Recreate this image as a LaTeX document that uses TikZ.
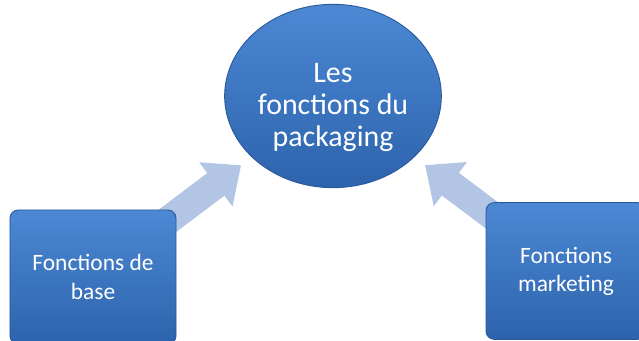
\documentclass[tikz,border=0pt]{standalone}
\usepackage{fontspec}
\setmainfont{Carlito}
\usepackage{xcolor}
\usepackage{tikz}
\usetikzlibrary{shapes.geometric,arrows.meta,backgrounds}
\definecolor{boxtop}{HTML}{4C88D4}
\definecolor{boxbot}{HTML}{2D63AC}
\definecolor{boxline}{HTML}{2A5A9C}
\definecolor{flechebleu}{HTML}{B2C5E4}
\tikzset{
  fonction/.style={rectangle, rounded corners=7pt, draw=boxline, line width=0.8pt,
    top color=boxtop, bottom color=boxbot, text=white, align=center,
    font=\fontsize{20}{24}\selectfont},
  centre/.style={ellipse, draw=boxline, line width=0.8pt, top color=boxtop,
    bottom color=boxbot, minimum width=6.5cm, minimum height=5.5cm},
  fleche/.style={line width=0.85cm, flechebleu, -{Triangle[width=1.6cm,length=0.95cm]},
    shorten >=0.4cm}
}

\begin{document}
\begin{tikzpicture}[x=0.03cm,y=-0.03cm]
        %CADRE
        \useasboundingbox (0,0) rectangle (639,341);
        \clip (0,0) rectangle (639,341);
        %ELLIPSE
        \node[centre, label={[text=white, align=center, font=\fontsize{25.5}{27.5}\selectfont, yshift=-0.35cm]center:Les\\fonctions du\\packaging}] (packaging) at (333,96) {};
        %BOITES
        \node[fonction, minimum width=4.98cm, minimum height=4.02cm] (base) at (93,277) {Fonctions de\\base};
        \node[fonction, minimum width=4.8cm, minimum height=4.1cm] (marketing) at (566,271) {Fonctions\\marketing};
        %FLECHES
        \begin{scope}[on background layer]
        \draw[fleche] (base.center) -- (packaging);
        \draw[fleche] (marketing.center) -- (packaging);
        \end{scope}
\end{tikzpicture}
\end{document}
